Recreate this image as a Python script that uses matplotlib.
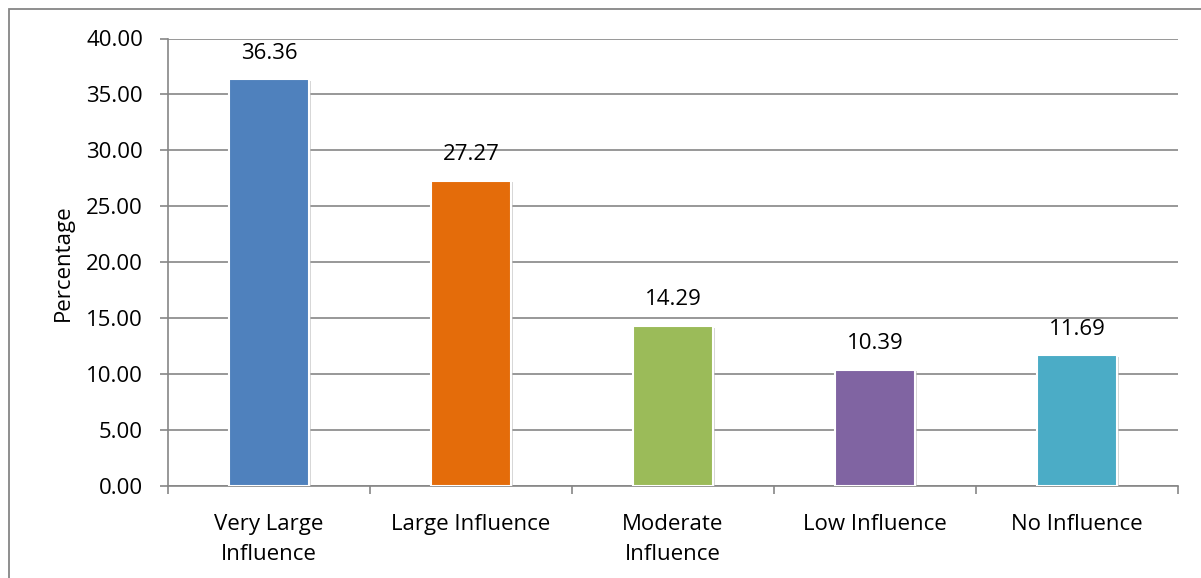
import matplotlib.pyplot as plt
import matplotlib.patheffects as pe
from matplotlib.patches import Rectangle
import numpy as np

categories = ["Very Large\nInfluence", "Large Influence", "Moderate\nInfluence",
              "Low Influence", "No Influence"]
values = [36.36, 27.27, 14.29, 10.39, 11.69]
colors = ["#4F81BD", "#E46C0A", "#9BBB59", "#8064A2", "#4BACC6"]
yticks = [0, 5, 10, 15, 20, 25, 30, 35, 40]

plt.rcParams["font.family"] = ["Open Sans", "DejaVu Sans"]
fs = 16

fig = plt.figure(figsize=(12.01, 5.78), dpi=100)
ax = fig.add_axes([168 / 1201, 1 - 486 / 578, 1010 / 1201, (486 - 38.5) / 578])

# outer chart border
fig.patches.append(Rectangle((9 / 1201, -0.1), 1.2, 1 - 9 / 578 + 0.1,
                             transform=fig.transFigure, fill=False,
                             edgecolor="#868686", linewidth=1.3))

x = np.arange(len(categories))
bars = ax.bar(x, values, width=0.4, color=colors, edgecolor="white",
              linewidth=1.5, zorder=3)
for b in bars:
    b.set_path_effects([pe.SimplePatchShadow(offset=(1, -1), shadow_rgbFace="#bbbbbb", alpha=0.6),
                        pe.Normal()])

for xi, v in zip(x, values):
    ax.text(xi, v + 1.4, f"{v:.2f}", ha="center", va="bottom", fontsize=fs)

ax.set_xlim(-0.5, len(categories) - 0.5)
ax.set_ylim(0, 40)
ax.set_yticks(yticks)
ax.set_yticklabels([f"{t:.2f}" for t in yticks], fontsize=fs)
ax.yaxis.grid(True, color="#868686", linewidth=1.2, zorder=0)
ax.set_axisbelow(True)

ax.set_xticks(x)
ax.set_xticklabels(categories, fontsize=fs, linespacing=1.55)
ax.tick_params(axis="x", length=0, pad=20)
ax.set_xticks(np.arange(len(categories) + 1) - 0.5, minor=True)
ax.tick_params(axis="x", which="minor", length=6, color="#868686", width=1.2)
ax.tick_params(axis="y", length=6, color="#868686", width=1.2, pad=12)

for s in ["top", "right"]:
    ax.spines[s].set_visible(False)
for s in ["left", "bottom"]:
    ax.spines[s].set_color("#868686")
    ax.spines[s].set_linewidth(1.2)

ax.set_ylabel("Percentage", fontsize=fs, labelpad=9)

fig.savefig("out.png", dpi=100)
